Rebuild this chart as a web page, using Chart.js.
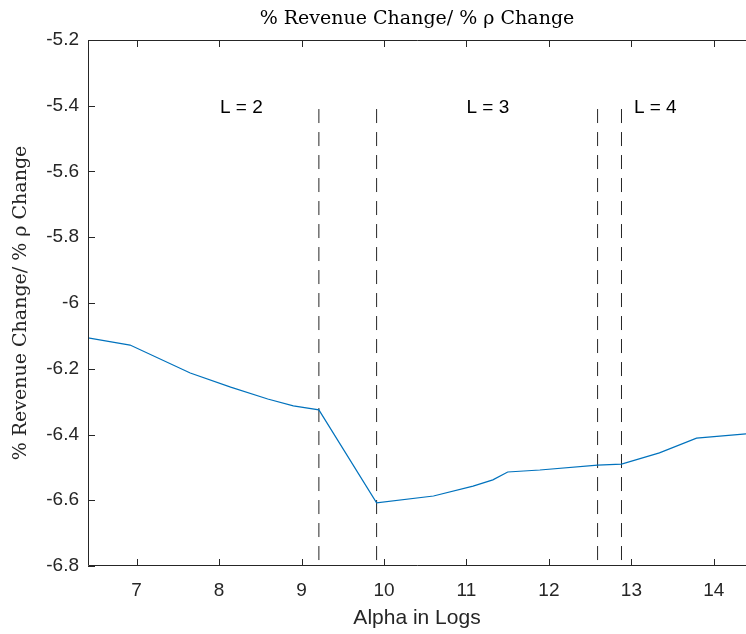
<!DOCTYPE html>
<html>
<head>
<meta charset="utf-8">
<script src="https://cdn.jsdelivr.net/npm/chart.js@4.4.1/dist/chart.umd.min.js"></script>
<style>
  html, body { margin: 0; padding: 0; background: #fff; }
  #wrap { width: 746px; height: 634px; }
</style>
</head>
<body>
<div id="wrap"><canvas id="myChart"></canvas></div>
<script>
// curve
const alphaLogs = [6.41, 6.92, 7.65, 8.14, 8.59, 8.90, 9.21, 9.91, 10.60, 11.08, 11.32, 11.50, 11.89, 12.59, 12.88, 13.34, 13.79, 14.39];
const revChange = [-6.106, -6.128, -6.213, -6.256, -6.292, -6.313, -6.325, -6.608, -6.587, -6.557, -6.538, -6.514, -6.508, -6.493, -6.490, -6.456, -6.411, -6.398];

// regime boundaries (dashed lines)
const boundaries = [9.21, 9.91, 12.59, 12.88];
const boundaryTop = -5.41;

// regime labels
const regimeLabels = ['L = 2', 'L = 3', 'L = 4'];
const regimeX = [8.27, 11.26, 13.29];
const regimeY = -5.405;

const xTicks = [7, 8, 9, 10, 11, 12, 13, 14];
const yTicks = [-5.2, -5.4, -5.6, -5.8, -6, -6.2, -6.4, -6.6, -6.8];

const axisColor = '#262626';
const sans = '"Liberation Sans", Arial, sans-serif';
const serif = '"DejaVu Serif", "Liberation Serif", serif';

const dashSets = boundaries.map(b => ({
    data: [{x: b, y: boundaryTop}, {x: b, y: -6.8}],
    borderColor: axisColor,
    borderWidth: 1,
    borderDash: [14, 9],
    pointRadius: 0,
    tension: 0
}));

const innerTicks = {
    id: 'innerTicks',
    afterDraw(chart) {
        const c = chart.ctx, a = chart.chartArea;
        const xs = chart.scales.x, ys = chart.scales.y;
        c.save();
        c.strokeStyle = axisColor;
        c.lineWidth = 1;
        c.beginPath();
        // box (top, left, bottom)
        c.moveTo(a.right, a.top + 0.5); c.lineTo(a.left + 0.5, a.top + 0.5);
        c.lineTo(a.left + 0.5, a.bottom - 0.5); c.lineTo(a.right, a.bottom - 0.5);
        xTicks.forEach(v => {
            const p = Math.round(xs.getPixelForValue(v)) + 0.5;
            c.moveTo(p, a.bottom); c.lineTo(p, a.bottom - 7);
            c.moveTo(p, a.top); c.lineTo(p, a.top + 7);
        });
        yTicks.forEach(v => {
            const p = Math.round(ys.getPixelForValue(v)) + 0.5;
            c.moveTo(a.left, p); c.lineTo(a.left + 7, p);
        });
        c.stroke();
        c.fillStyle = '#000';
        c.font = '19px ' + sans;
        c.textAlign = 'center';
        c.textBaseline = 'middle';
        regimeLabels.forEach((t, i) => {
            c.fillText(t, xs.getPixelForValue(regimeX[i]), ys.getPixelForValue(regimeY));
        });
        c.restore();
    }
};

const ctx = document.getElementById('myChart');

const chrt = new Chart(ctx, {
    type: 'line',
    data: {
        datasets: [
            {
                data: alphaLogs.map((x, i) => ({x: x, y: revChange[i]})),
                borderColor: '#0072BD',
                borderWidth: 1.2,
                pointRadius: 0,
                tension: 0
            },
            ...dashSets
        ]
    },
    options: {
        animation: false,
        responsive: true,
        maintainAspectRatio: false,
        layout: { padding: 0 },
        plugins: {
            legend: { display: false },
            tooltip: { enabled: false },
            title: {
                display: true,
                text: '% Revenue Change/ % \u03c1 Change',
                color: '#000',
                fullSize: false,
                font: { family: serif, size: 19, weight: 'normal' },
                padding: { top: 8, bottom: 9.2 }
            }
        },
        scales: {
            x: {
                type: 'linear',
                min: 6.41,
                max: 14.39,
                afterBuildTicks: s => { s.ticks = xTicks.map(v => ({value: v})); },
                afterFit: s => { s.height = 68; },
                border: { display: false },
                grid: { display: false, drawTicks: false },
                ticks: {
                    color: axisColor,
                    padding: 13,
                    font: { family: sans, size: 19 }
                },
                title: {
                    display: true,
                    text: 'Alpha in Logs',
                    color: axisColor,
                    font: { family: sans, size: 21 },
                    padding: { top: 0, bottom: 3 }
                }
            },
            y: {
                min: -6.8,
                max: -5.2,
                afterBuildTicks: s => { s.ticks = yTicks.map(v => ({value: v})); },
                afterFit: s => { s.width = 88; },
                border: { display: false },
                grid: { display: false, drawTicks: false },
                ticks: {
                    color: axisColor,
                    padding: 9,
                    font: { family: sans, size: 19 },
                    callback: v => String(v)
                },
                title: {
                    display: true,
                    text: '% Revenue Change/ % \u03c1 Change',
                    color: axisColor,
                    font: { family: serif, size: 19 },
                    padding: { top: 10, bottom: 0 }
                }
            }
        }
    },
    plugins: [innerTicks]
});
</script>
</body>
</html>
